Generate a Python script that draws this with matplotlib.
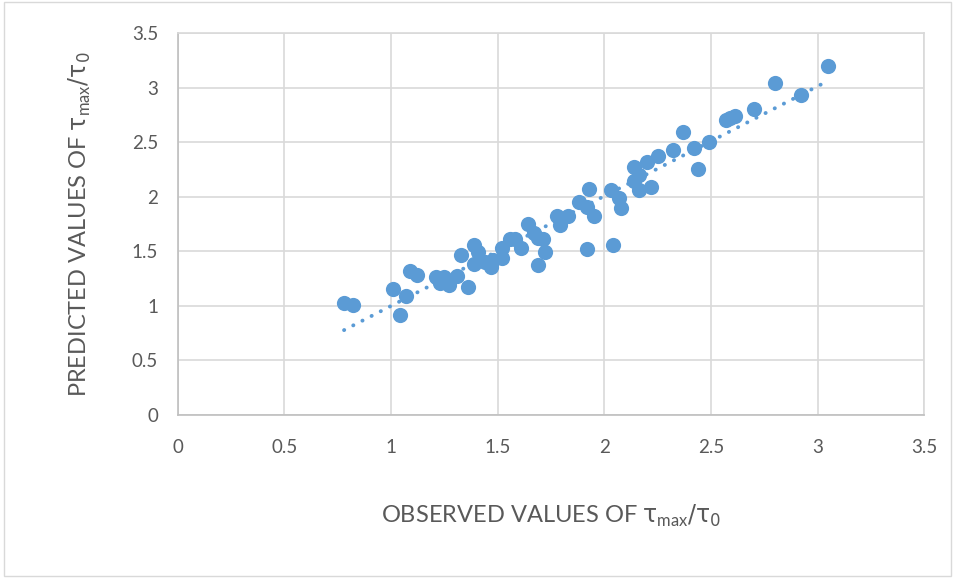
import numpy as np
import matplotlib
matplotlib.use("Agg")
import matplotlib.pyplot as plt
from matplotlib.patches import Rectangle

plt.rcParams["font.family"] = ["Lato", "DejaVu Sans"]
plt.rcParams["mathtext.fontset"] = "custom"
plt.rcParams["mathtext.rm"] = "DejaVu Sans"
plt.rcParams["mathtext.it"] = "DejaVu Sans"

# observed / predicted tau_max/tau_0
observed = [0.78, 0.82, 1.01, 1.04, 1.07, 1.09, 1.12, 1.21, 1.23, 1.25,
            1.27, 1.31, 1.33, 1.36, 1.39, 1.39, 1.41, 1.44, 1.47, 1.48,
            1.52, 1.52, 1.56, 1.58, 1.61, 1.64, 1.67, 1.69, 1.69, 1.71,
            1.72, 1.78, 1.79, 1.83, 1.88, 1.92, 1.92, 1.93, 1.95, 2.03,
            2.04, 2.07, 2.08, 2.14, 2.14, 2.16, 2.16, 2.20, 2.22, 2.25,
            2.32, 2.37, 2.42, 2.44, 2.49, 2.57, 2.59, 2.61, 2.70, 2.80,
            2.92, 3.05]
predicted = [1.03, 1.01, 1.15, 0.92, 1.09, 1.32, 1.28, 1.26, 1.21, 1.26,
             1.19, 1.27, 1.47, 1.17, 1.56, 1.38, 1.49, 1.40, 1.36, 1.42,
             1.53, 1.44, 1.61, 1.61, 1.53, 1.75, 1.67, 1.62, 1.37, 1.61,
             1.49, 1.82, 1.74, 1.82, 1.95, 1.91, 1.52, 2.07, 1.82, 2.06,
             1.56, 1.99, 1.90, 2.27, 2.14, 2.06, 2.20, 2.32, 2.09, 2.37,
             2.43, 2.59, 2.45, 2.25, 2.50, 2.70, 2.72, 2.74, 2.80, 3.04,
             2.93, 3.20]

x_ticks = [0, 0.5, 1, 1.5, 2, 2.5, 3, 3.5]
y_ticks = [0, 0.5, 1, 1.5, 2, 2.5, 3, 3.5]

BLUE = "#5B9BD5"
GRID = "#D9D9D9"
TXT = "#595959"

fig = plt.figure(figsize=(9.55, 5.78), dpi=100)
fig.patches.append(Rectangle((0.004, 0.004), 0.992, 0.992, transform=fig.transFigure,
                             fill=False, edgecolor="#D9D9D9", linewidth=1))
ax = fig.add_axes([0.186, 0.282, 0.782, 0.661])

obs = np.array(observed)
pred = np.array(predicted)
ax.scatter(obs, pred, s=120, color=BLUE, zorder=3, linewidths=0)

# linear trendline (dotted)
k, b = np.polyfit(obs, pred, 1)
xs = np.array([obs.min(), obs.max()])
ax.plot(xs, k * xs + b, linestyle=(0, (0.05, 2.6)), color=BLUE, linewidth=2.8,
        dash_capstyle="round", solid_capstyle="round", zorder=2)

ax.set_xlim(0, 3.5)
ax.set_ylim(0, 3.5)
ax.set_xticks(x_ticks)
ax.set_yticks(y_ticks)
ax.set_xticklabels([f"{v:g}" for v in x_ticks])
ax.set_yticklabels([f"{v:g}" for v in y_ticks])
ax.grid(True, color=GRID, linewidth=1.2, zorder=0)
ax.set_axisbelow(True)
for sp in ax.spines.values():
    sp.set_color(GRID)
    sp.set_linewidth(1.2)
ax.spines["left"].set_color("#BFBFBF")
ax.spines["bottom"].set_color("#BFBFBF")
ax.tick_params(length=0, labelsize=13.5, colors=TXT)
ax.tick_params(axis="x", pad=17)
ax.tick_params(axis="y", pad=14)

ax.set_xlabel(r"OBSERVED VALUES OF $\tau_{\mathregular{max}}/\tau_0$",
              fontsize=17, color=TXT, labelpad=34)
ax.set_ylabel(r"PREDICTED VALUES OF $\tau_{\mathregular{max}}/\tau_0$",
              fontsize=17, color=TXT, labelpad=28)

fig.savefig("out.png", dpi=100)
